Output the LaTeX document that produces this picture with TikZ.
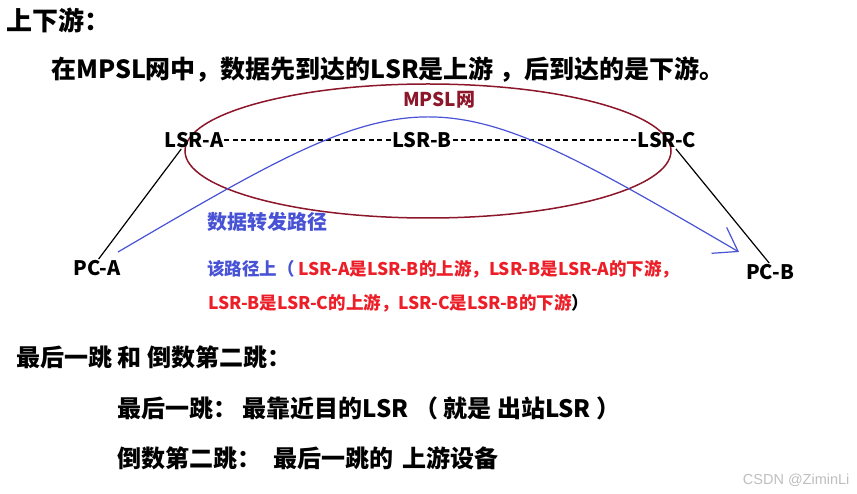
\documentclass[tikz,border=0pt]{standalone}
\usepackage{fontspec}
\setmainfont{Noto Sans CJK SC}
\setsansfont{Liberation Sans}
\usetikzlibrary{arrows.meta}

\begin{document}
\begin{tikzpicture}[x=1pt, y=-1pt,
    txt/.style={font=\bfseries\fontsize{#1}{#1}\selectfont, inner sep=1pt},
    txt/.default=24,
    hyph/.style={line width=1.6pt, dash pattern=on 5pt off 3.5pt},
    flow/.style={draw=pathblue, line width=1.2pt,
      -{Straight Barb[length=22pt, width=30pt, line width=1.2pt]}}]
  % colors close to the figure
  \definecolor{netred}{RGB}{140,22,42}
  \definecolor{pathblue}{RGB}{72,82,212}
  \definecolor{txtred}{RGB}{236,30,40}
  \definecolor{markgray}{RGB}{190,190,190}

  \useasboundingbox (0,0) rectangle (857,494);

  % headings
  \node[txt=26, anchor=west] (title) at (5,20) {上下游：};
  \node[txt=25, anchor=west] (rule) at (50,70)
    {在MPSL网中，数据先到达的LSR是上游 ，后到达的是下游。};

  % the MPLS network
  \draw[netred, line width=1.5pt] (428,151) ellipse [x radius=243, y radius=67];
  \node[txt=19, text=netred] (net) at (439,100) {MPSL网};

  % routers and hosts
  \node[txt=20] (lsra) at (194,140) {LSR-A};
  \node[txt=20] (lsrb) at (422,140) {LSR-B};
  \node[txt=20] (lsrc) at (667,140) {LSR-C};
  \node[txt=20] (pca) at (97,268) {PC-A};
  \node[txt=20] (pcb) at (770,272) {PC-B};

  \draw[hyph] (lsra) -- (lsrb);
  \draw[hyph] (lsrb) -- (lsrc);
  \draw[line width=1.2pt] (lsra.215) -- (pca.80);
  \draw[line width=1.2pt] (lsrc.-45) -- (pcb.95);

  % forwarding path
  \coordinate (pathstart) at (118,252);
  \coordinate (pathend) at (739,252);
  \draw[flow] (pathstart) .. controls (425,72) and (431,72) .. (pathend);
  \node[txt=20, text=pathblue, anchor=west] (pathlbl) at (206,222) {数据转发路径};

  % explanation
  \node[txt=17.5, anchor=west] (note1) at (206,269)
    {\textcolor{pathblue}{该路径上（ }\textcolor{txtred}{LSR-A是LSR-B的上游，LSR-B是LSR-A的下游，}};
  \node[txt=17.5, anchor=west] (note2) at (207,303)
    {\textcolor{txtred}{LSR-B是LSR-C的上游，LSR-C是LSR-B的下游}）};

  % last hop
  \node[txt, anchor=west] (hops) at (15,357) {最后一跳 和 倒数第二跳：};
  \node[txt, anchor=west] (last) at (116,408)
    {最后一跳： 最靠近目的LSR （ 就是 出站LSR ）};
  \node[txt, anchor=west] (penult) at (116,458)
    {倒数第二跳：\hspace{0.5em}最后一跳的\hspace{0.4em}上游设备};

  \node[font=\sffamily\fontsize{14.5}{14.5}\selectfont, text=markgray, anchor=east]
    (mark) at (853,480) {CSDN @ZiminLi};
\end{tikzpicture}
\end{document}
